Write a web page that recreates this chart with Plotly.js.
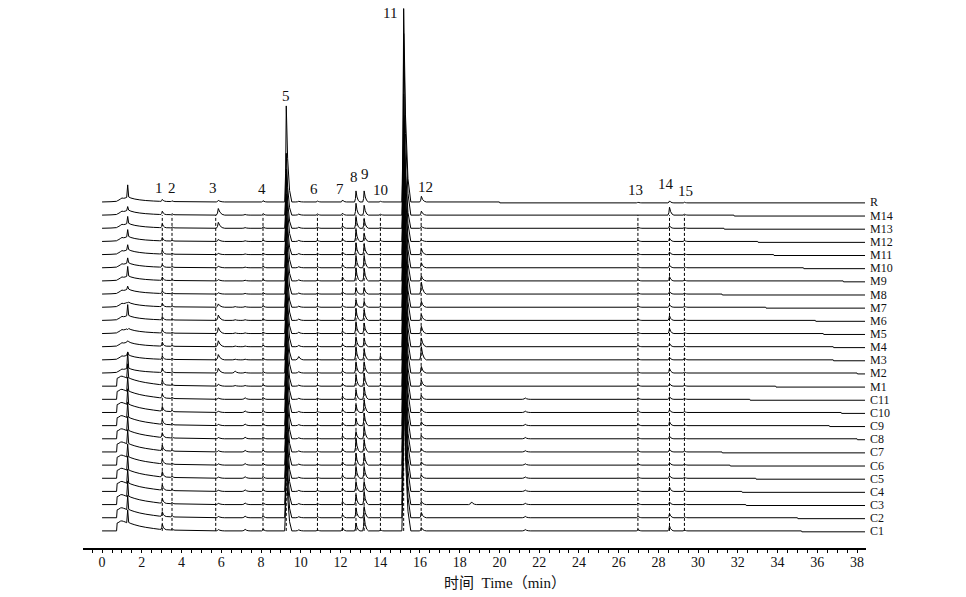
<!DOCTYPE html>
<html><head><meta charset="utf-8">
<script src="https://cdn.plot.ly/plotly-3.0.1.min.js"></script>
<style>html,body{margin:0;padding:0;background:#fff}#chart{width:966px;height:597px}</style>
</head><body><div id="chart"></div>
<script>
// ---- samples, bottom (offset 0) to top (offset 25) ----
const samples = ['C1','C2','C3','C4','C5','C6','C7','C8','C9','C10','C11',
  'M1','M2','M3','M4','M5','M6','M7','M8','M9','M10','M11','M12','M13','M14','R'];
const frontType = ['C','C','C','C','C','C','C','C','C','C','C',
  'C','M','M','M','M','M','M','M','M','M','M','M','M','M','M'];

// ---- common peaks (dashed lines) ----
const peakNos   = ['1','2','3','4','5','6','7','8','9','10','11','12','13','14','15'];
const peakTimes = [3.03,3.52,5.72,8.10,9.27,10.84,12.10,12.78,13.19,14.01,15.18,16.06,26.97,28.56,29.31];
const apexTimes = [3.03,3.52,5.85,8.10,9.27,10.84,12.10,12.78,13.19,14.01,15.18,16.07,26.97,28.56,29.31];

// ---- solvent front profile (min) ----
const frontT = [0,0.45,0.73,0.76,0.85,0.92,1.0,1.08,1.16,1.24,1.29,1.34,1.45,1.65,1.9,2.2,2.6,2.9];
const cFront = [0,0,0,0.6,0.66,0.74,0.76,0.72,0.68,0.62,null,0.64,0.56,0.46,0.36,0.27,0.18,0.12];
const mFront = [0,0.02,0.05,0.08,0.15,0.22,0.30,0.28,0.30,0.35,null,0.38,0.30,0.22,0.16,0.11,0.07,0.05];
const solvent = [1.6,1.7,1.8,1.7,1.7,1.6,1.7,1.7,1.8,1.8,1.7, 1.7,1.6,0.6,0.45,0.3,1.2,0.35,0.6,1.1,0.75,0.75,0.9,0.9,0.65,1.3];
const baseT = [2.9,3.6,4.5,6.0];
const cBase = [0.12,0.06,0.03,0];
const mBase = [0.05,0.03,0.01,0];

// ---- peak heights (units of trace spacing), C1..C11, M1..M14, R ----
const p1  = [0.4,0.35,0.35,0.4,0.4,0.35,0.4,0.35,0.35,0.35,0.3, 0.35,0.3,0.25,0.3,0.25,0.25,0.25,0.2,0.25,0.2,0.3,0.25,0.3,0.25,0.15];
const p2  = [0.1,0.1,0.1,0.1,0.1,0.1,0.1,0.1,0.1,0.1,0.1, 0.08,0.08,0.08,0.08,0.08,0.08,0.08,0.08,0.08,0.08,0.08,0.08,0.08,0.08,0.06];
const p3  = [0.1,0.1,0.1,0.1,0.1,0.1,0.1,0.1,0.1,0.1,0.1, 0.15,0.35,0.4,0.45,0.45,0.4,0.25,0.1,0.1,0.12,0.1,0.15,0.45,0.5,0.12];
const p4  = [0.15,0.15,0.15,0.15,0.15,0.15,0.15,0.15,0.15,0.15,0.15, 0.12,0.12,0.15,0.12,0.12,0.12,0.12,0.12,0.12,0.12,0.12,0.12,0.12,0.12,0.1];
const p5  = [5.8,6.0,5.5,6.2,5.6,6.0,5.4,5.9,5.5,6.1,5.7, 5.2,5.6,5.0,5.4,4.9,5.3,4.6,5.1,4.8,5.2,4.6,5.0,4.5,4.7,7.3];
const p6  = [0.1,0.1,0.1,0.1,0.1,0.1,0.1,0.1,0.1,0.1,0.1, 0.1,0.1,0.1,0.1,0.1,0.1,0.1,0.1,0.1,0.1,0.1,0.1,0.1,0.1,0.08];
const p7  = [0.25,0.25,0.25,0.25,0.25,0.25,0.25,0.25,0.25,0.25,0.25, 0.2,0.2,0.2,0.2,0.2,0.25,0.15,0.2,0.3,0.25,0.2,0.2,0.2,0.15,0.15];
const p8  = [0.6,0.75,0.75,0.75,0.9,0.9,1.05,0.55,0.55,0.6,0.7, 0.85,0.85,1.0,0.75,0.9,0.9,0.55,0.5,1.0,0.9,0.9,0.9,0.9,0.9,0.84];
const p9  = [1.1,0.85,1.0,0.75,0.9,0.9,0.9,0.95,0.95,0.95,0.95, 1.0,0.85,0.8,0.65,0.8,0.8,0.45,0.5,0.95,0.9,0.8,0.6,0.7,0.75,0.84];
const p10 = [0.08,0.08,0.08,0.08,0.08,0.08,0.08,0.08,0.08,0.08,0.08, 0.08,0.08,0.3,0.08,0.08,0.08,0.08,0.08,0.08,0.08,0.08,0.08,0.08,0.08,0.06];
const p11 = [12.5,13.0,12.0,13.2,12.4,12.8,11.8,12.6,12.2,12.9,12.0, 11.5,12.2,11.4,12.0,11.2,11.8,10.8,11.5,11.0,11.6,10.5,11.2,10.0,13.8,14.7];
const p12 = [0.25,0.4,0.25,0.25,0.25,0.25,0.25,0.25,0.3,0.3,0.3, 0.45,0.5,1.0,0.65,0.55,0.45,0.45,0.9,0.38,0.38,0.45,0.15,0.15,0.3,0.43];
const p13 = [0.12,0.12,0.12,0.12,0.12,0.12,0.12,0.12,0.15,0.15,0.12, 0.1,0.1,0.1,0.1,0.1,0.1,0.1,0.1,0.1,0.1,0.1,0.1,0.1,0.0,0.05];
const p14 = [0.38,0.33,0.2,0.33,0.2,0.2,0.2,0.2,0.3,0.2,0.2, 0.2,0.35,0.2,0.25,0.4,0.35,0.18,0.2,0.33,0.2,0.2,0.25,0.18,0.6,0.15];
const p15 = [0.08,0.08,0.08,0.08,0.08,0.08,0.08,0.08,0.08,0.08,0.08, 0.08,0.08,0.15,0.08,0.08,0.08,0.08,0.08,0.08,0.08,0.08,0.08,0.08,0.08,0.05];
const peakHeights = [p1,p2,p3,p4,p5,p6,p7,p8,p9,p10,p11,p12,p13,p14,p15];

// ---- minor bumps ----
const extraTimes = [6.7,7.2,9.9,18.6,21.3];
const x67  = [0,0,0,0,0,0,0,0,0,0,0, 0.05,0.15,0.05,0.05,0.05,0.05,0.05,0,0,0,0,0,0,0,0];
const x72  = [0.12,0.12,0.12,0.12,0.12,0.12,0.12,0.12,0.12,0.12,0.12, 0.05,0.05,0.05,0.05,0.05,0.05,0.05,0.05,0.05,0.05,0.05,0.05,0.05,0.05,0];
const x99  = [0.08,0.08,0.08,0.08,0.08,0.08,0.08,0.08,0.08,0.08,0.08, 0.08,0.1,0.25,0.1,0.1,0.1,0.08,0.08,0.08,0.08,0.08,0.08,0.08,0.08,0.05];
const x186 = [0,0,0.2,0,0,0,0,0,0,0,0, 0,0,0,0,0,0,0,0,0,0,0,0,0,0,0];
const x213 = [0.1,0.1,0.1,0.1,0.1,0.1,0.1,0.1,0.1,0.1,0.1, 0,0,0,0,0,0,0,0,0,0,0,0,0,0,0];
const extraHeights = [x67,x72,x99,x186,x213];

// ---- baseline drop positions (min) ----
const stepTimes = [35.2,35.0,32.4,32.2,32.9,31.6,31.2,38.0,36.6,37.2,32.6,
  33.9,38.0,36.8,36.8,36.3,35.9,33.4,31.2,37.3,35.3,33.8,33.0,31.3,31.8,20.0];

// ---- tick labels ----
const tickVals = [0,2,4,6,8,10,12,14,16,18,20,22,24,26,28,30,32,34,36,38];

// ---------- styles ----------
const STEP_DROP = 0.07;
const T_END = 38.4;
const peakW = [[0.07,0.2],[0.06,0.15],[0.1,0.32],[0.07,0.2],[0.08,0.28],[0.07,0.18],[0.07,0.2],[0.07,0.2],[0.07,0.22],[0.07,0.18],[0.09,0.36],[0.08,0.25],[0.08,0.2],[0.08,0.22],[0.07,0.18]];
const extraW = [0.15,0.25];
const labelX = [2.88,3.53,5.60,8.04,9.27,10.67,11.96,12.67,13.22,14.0,14.48,16.27,26.83,28.36,29.36];
const labelY = [26.09,26.09,26.09,26.01,33.05,26.01,26.01,26.9,27.1,25.9,39.34,26.16,25.9,26.35,25.8];
const serif = 'Liberation Serif, Times New Roman, serif';
const X_MIN = -0.96, X_MAX = 38.45;

function interp(xs, ys, t){
  if (t <= xs[0]) return ys[0];
  for (let i = 1; i < xs.length; i++){
    if (t <= xs[i]){ const f = (t - xs[i-1]) / (xs[i] - xs[i-1]); return ys[i-1] + f * (ys[i] - ys[i-1]); }
  }
  return ys[ys.length - 1];
}

const traces = samples.map((name, i) => {
  const isC = frontType[i] === 'C';
  const prof = isC ? cFront : mFront;
  const bprof = isC ? cBase : mBase;
  const base = t => i + interp(baseT, bprof, t) - (t >= stepTimes[i] ? STEP_DROP : 0);
  const xs = [], ys = [];
  frontT.forEach((t, k) => { xs.push(t); ys.push(i + (prof[k] === null ? solvent[i] : prof[k])); });
  const events = [];
  peakHeights.forEach((arr, k) => { if (arr[i] > 0) events.push({t: apexTimes[k], h: arr[i], wl: peakW[k][0], wr: peakW[k][1]}); });
  extraHeights.forEach((arr, k) => { if (arr[i] > 0) events.push({t: extraTimes[k], h: arr[i], wl: extraW[0], wr: extraW[1]}); });
  events.push({t: stepTimes[i], step: true});
  events.sort((a, b) => a.t - b.t);
  events.forEach(e => {
    if (e.step){
      xs.push(e.t); ys.push(i + interp(baseT, bprof, e.t));
      xs.push(e.t + 0.02); ys.push(i + interp(baseT, bprof, e.t) - STEP_DROP);
      return;
    }
    const pts = [[-e.wl, 0], [-e.wl * 0.4, 0.3], [0, 1], [e.wr * 0.25, 0.45], [e.wr * 0.6, 0.12], [e.wr, 0]];
    pts.forEach(p => { const t = e.t + p[0]; xs.push(t); ys.push(base(t) + p[1] * e.h); });
  });
  xs.push(T_END); ys.push(base(T_END));
  return {x: xs, y: ys, type: 'scatter', mode: 'lines', name: name,
    line: {color: '#000', width: 1, simplify: false}, hoverinfo: 'skip', showlegend: false};
});

const shapes = peakTimes.map(t => ({type: 'line', xref: 'x', yref: 'y', x0: t, x1: t, y0: 0, y1: 24,
  line: {color: '#000', width: 1, dash: '3px,2px'}, layer: 'above'}));

const labelPaperX = (38.62 - X_MIN) / (X_MAX - X_MIN);
const annotations = [];
samples.forEach((name, i) => annotations.push({x: labelPaperX, y: i - STEP_DROP * 0.5, xref: 'paper', yref: 'y', text: name,
  showarrow: false, xanchor: 'left', yanchor: 'middle', borderpad: 0,
  font: {family: serif, size: 12, color: '#111'}}));
peakNos.forEach((n, k) => annotations.push({x: labelX[k], y: labelY[k], xref: 'x', yref: 'y', text: n,
  showarrow: false, xanchor: 'center', yanchor: 'middle', font: {family: serif, size: 15, color: '#111'}}));
annotations.push({x: 20.3, y: -0.064, xref: 'x', yref: 'paper', text: '时间  Time（min）', showarrow: false,
  xanchor: 'center', yanchor: 'middle', font: {family: 'Liberation Serif, Noto Sans CJK SC, serif', size: 15, color: '#111'}});

const layout = {
  width: 966, height: 597,
  margin: {l: 83, r: 100, t: 0, b: 49},
  paper_bgcolor: '#fff', plot_bgcolor: '#fff',
  showlegend: false,
  xaxis: {range: [X_MIN, X_MAX], tickmode: 'array', tickvals: tickVals, ticktext: tickVals.map(String),
    showline: true, linecolor: '#000', linewidth: 2, ticks: 'outside', ticklen: 3, tickwidth: 1, tickcolor: '#000',
    ticklabelstandoff: -3,
    minor: {tickmode: 'linear', tick0: 0, dtick: 0.5, ticks: 'outside', ticklen: 2.5, tickwidth: 1, tickcolor: '#000'},
    showgrid: false, zeroline: false, tickfont: {family: serif, size: 14, color: '#111'}, fixedrange: true},
  yaxis: {range: [-1.3, 40.35], visible: false, fixedrange: true, showgrid: false, zeroline: false},
  shapes: shapes,
  annotations: annotations
};

Plotly.newPlot('chart', traces, layout, {displayModeBar: false, staticPlot: true});
</script></body></html>
